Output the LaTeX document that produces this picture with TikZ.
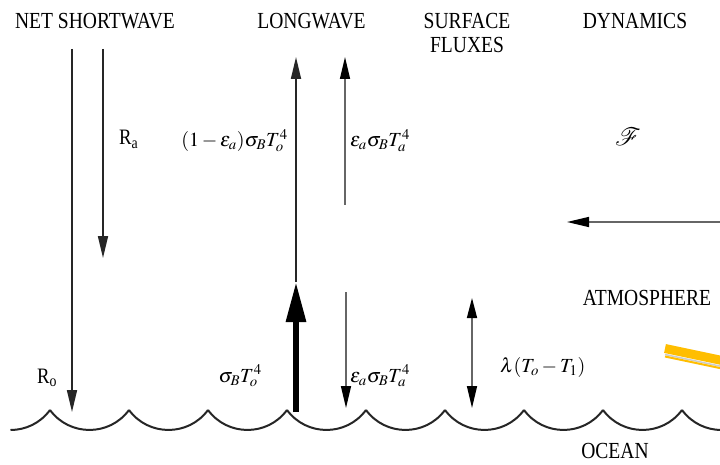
\documentclass[tikz,border=0pt]{standalone}
\usepackage{mathptmx}
\usepackage[no-math]{fontspec}
\setmainfont{Liberation Serif}[FakeStretch=0.85]
\usetikzlibrary{arrows.meta}
\definecolor{hiyel}{RGB}{255,190,0}
\tikzset{
  head/.style={font=\fontsize{23}{27}\selectfont, inner sep=0pt, anchor=base},
  lab/.style={font=\fontsize{20}{24}\selectfont, inner sep=0pt},
  rlab/.style={font=\fontsize{22}{26}\selectfont, inner sep=0pt},
  thinarr/.style={line width=1.7pt, draw=black!85, -{Triangle[length=22pt,width=10pt]}},
  greyarr/.style={line width=1.5pt, draw=black!60, -{Triangle[length=22pt,width=10pt,fill=black,color=black]}},
  bigarr/.style={line width=6pt, draw=black, -{Triangle[length=40pt,width=19pt]}},
  wave/.style={line width=2pt, draw=black!85}
}
\begin{document}
\begin{tikzpicture}[x=1pt,y=-1pt]
\useasboundingbox[fill=white] (0,0) rectangle (720,465);

% headings
\node[head] (hsw) at (95,29) {NET SHORTWAVE};
\node[head] (hlw) at (311.5,29) {LONGWAVE};
\node[head] (hsf) at (467,29) {SURFACE};
\node[head] (hfl) at (467,53) {FLUXES};
\node[head] (hdy) at (635,29) {DYNAMICS};
\node[head] (hat) at (647,305) {ATMOSPHERE};
\node[head] (hoc) at (615,458) {OCEAN};

% arrow end points
\coordinate (ro1) at (72,49);   \coordinate (ro2) at (72,412);
\coordinate (ra1) at (103,49);  \coordinate (ra2) at (103,258);
\coordinate (lw0) at (296,412); \coordinate (lw1) at (296,282); \coordinate (lw2) at (296,57);
\coordinate (eu1) at (345,205); \coordinate (eu2) at (345,57);
\coordinate (ed1) at (346,292); \coordinate (ed2) at (346,408);
\coordinate (sf1) at (472,298); \coordinate (sf2) at (472,408);
\coordinate (dy1) at (721,222); \coordinate (dy2) at (567,222);

% shortwave
\draw[thinarr] (ro1) -- (ro2);
\draw[thinarr] (ra1) -- (ra2);
% longwave
\draw[thinarr] (lw1) -- (lw2);
\draw[bigarr] (lw0) -- (lw1);
\draw[greyarr] (eu1) -- (eu2);
\draw[greyarr] (ed1) -- (ed2);
% surface fluxes
\draw[line width=1.5pt, draw=black!60, {Triangle[length=20pt,width=10pt,color=black]}-{Triangle[length=22pt,width=10pt,color=black]}] (sf1) -- (sf2);
% dynamics
\draw[greyarr] (dy1) -- (dy2);

% labels
\node[rlab, anchor=base west] (lra) at (119,145) {R\textsubscript{a}};
\node[rlab, anchor=base west] (lro) at (37,383) {R\textsubscript{o}};
\node[lab, anchor=base east] (l1) at (288,147) {$(1-\varepsilon_a)\sigma_B T_o^4$};
\node[lab, anchor=base west] (l2) at (350,147) {$\varepsilon_a\sigma_B T_a^4$};
\node[lab, anchor=base east] (l3) at (262,382) {$\sigma_B T_o^4$};
\node[lab, anchor=base west] (l4) at (350,382) {$\varepsilon_a\sigma_B T_a^4$};
\node[lab, anchor=base west] (l5) at (500,372) {$\lambda(T_o - T_1)$};
\node[font=\fontsize{25}{28}\selectfont, inner sep=0pt] (lf) at (628,137) {$\mathcal{F}$};

% ocean surface
\draw[wave] (10.5,430) .. controls (25.4,430) and (40.25,423.3) .. (50,410);
\foreach \a in {50,129,208,287,366,445,524,603}{
  \draw[wave] (\a,410) .. controls (\a+19.5,436.6) and (\a+59.5,436.6) .. (\a+79,410);
}
\draw[wave] (682,410) .. controls (691.75,423.3) and (706.6,430) .. (721.5,430);

% yellow highlighter stroke
\draw[line width=9pt, hiyel] (665,348.5) -- (722,360.5);
\draw[line width=1.5pt, black!20] (665,354.5) -- (722,366.5);
\draw[line width=2pt, hiyel] (665,356.5) -- (722,368.5);
\end{tikzpicture}
\end{document}
